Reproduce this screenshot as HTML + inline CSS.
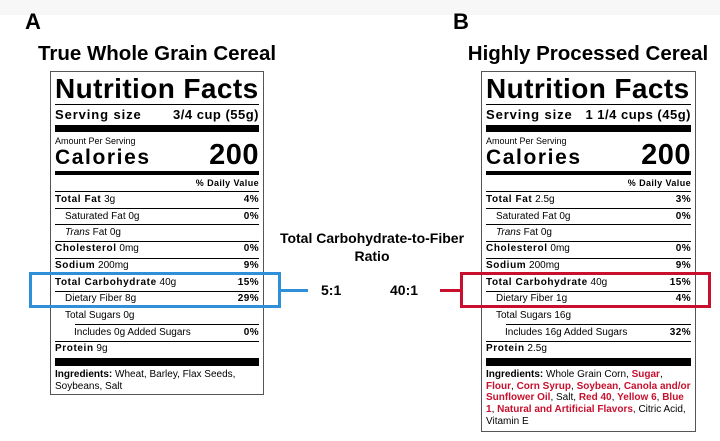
<!DOCTYPE html>
<html><head><meta charset="utf-8">
<style>
body{margin:0;width:720px;height:441px;background:#fff;position:relative;overflow:hidden;font-family:"Liberation Sans",Arial,sans-serif;color:#000}
.abs{position:absolute}
.lbl{position:absolute;border:1px solid #555;box-sizing:border-box;background:#fff}
.r{position:absolute;left:4px;right:4px;height:14px;line-height:14px;font-size:10px;white-space:nowrap}
.r b{letter-spacing:0.6px}
.r .v{position:absolute;right:0;top:0;font-weight:bold;letter-spacing:0.4px}
.hr{position:absolute;right:4px;background:#000}
.title{position:absolute;font-size:20.5px;font-weight:bold;width:320px;text-align:center}
.red{color:#c8102e;font-weight:bold}
</style></head><body>
<div class="abs" style="left:0;top:0;width:720px;height:15px;background:#f7f7f7"></div>
<div class="abs" style="left:25px;top:9px;font-size:22px;font-weight:bold">A</div>
<div class="abs" style="left:453px;top:9px;font-size:22px;font-weight:bold">B</div>
<div class="title" style="left:-3px;top:42px">True Whole Grain Cereal</div>
<div class="title" style="left:428px;top:42px">Highly Processed Cereal</div>
<div id="labA" class="lbl" style="left:50px;top:71px;width:214px;height:324px"></div>
<div id="labB" class="lbl" style="left:481px;top:71px;width:215px;height:361px"></div>
<div class="abs" style="left:257px;top:229px;width:230px;text-align:center;font-size:14px;font-weight:bold;line-height:18px">Total Carbohydrate-to-Fiber<br>Ratio</div>
<div class="abs" style="left:29px;top:272px;width:252px;height:36px;border:3px solid #2f8fd8;box-sizing:border-box"></div>
<div class="abs" style="left:281px;top:289px;width:27px;height:3px;background:#2f8fd8"></div>
<div class="abs" style="left:321px;top:282px;font-size:14px;font-weight:bold">5:1</div>
<div class="abs" style="left:390px;top:282px;font-size:14px;font-weight:bold">40:1</div>
<div class="abs" style="left:440px;top:289px;width:22px;height:3px;background:#c8102e"></div>
<div class="abs" style="left:460px;top:272px;width:251px;height:36px;border:3px solid #c8102e;box-sizing:border-box"></div>
<script>
function el(parent, css, html, name){
  const d=document.createElement('div');
  
  
  d.style.cssText=css; d.innerHTML=html; parent.appendChild(d); return d;
}
function hr(p,y,h,x0,name){
  const d=el(p,'top:'+y+'px;height:'+h+'px;left:'+(x0||4)+'px','',name);
  d.className='hr';
}
function row(p,c,left,right,ind,name){
  const d=el(p,'top:'+(c-7)+'px;padding-left:'+(ind||0)+'px','<span>'+left+'</span>'+(right?'<span class="v">'+right+'</span>':''),name);
  d.className='r';
}
function build(p,d){
  el(p,'position:absolute;left:4px;top:2px;font-size:28px;font-weight:bold;line-height:30px;letter-spacing:0.4px','Nutrition Facts','heading');
  hr(p,32,1,4,'rule-1');
  el(p,'position:absolute;left:4px;right:4px;top:35px;font-size:13px;font-weight:bold;line-height:16px;letter-spacing:0.9px','Serving size<span style="position:absolute;right:0;letter-spacing:0.5px">'+d.serv+'</span>','serving-size');
  hr(p,53,7,4,'thick-bar-1');
  el(p,'position:absolute;left:4px;top:64px;font-size:9px;line-height:11px','Amount Per Serving','amount-per-serving');
  el(p,'position:absolute;left:4px;right:4px;top:74px;font-size:21px;font-weight:bold;line-height:24px;letter-spacing:1.6px','Calories<span style="position:absolute;right:0;top:-6px;font-size:29px;line-height:30px;letter-spacing:0.5px">200</span>','calories');
  hr(p,99,4,4,'thick-bar-2');
  row(p,111,'','<span style="font-size:9px">% Daily Value</span>',0,'daily-value-header');
  hr(p,119,1,4,'rule');
  row(p,128,'<b>Total Fat</b> '+d.fat,d.fatp,0,'total-fat');
  hr(p,136,1,4,'rule');
  row(p,145,'Saturated Fat 0g','0%',10,'saturated-fat');
  hr(p,152,1,4,'rule');
  row(p,161,'<i>Trans</i> Fat 0g','',10,'trans-fat');
  hr(p,169,1,4,'rule');
  row(p,177,'<b>Cholesterol</b> 0mg','0%',0,'cholesterol');
  hr(p,186,1,4,'rule');
  row(p,194,'<b>Sodium</b> 200mg','9%',0,'sodium');
  hr(p,202,1,4,'rule');
  row(p,211,'<b>Total Carbohydrate</b> 40g','15%',0,'total-carbohydrate');
  hr(p,219,1,4,'rule');
  row(p,227,'Dietary Fiber '+d.fib,d.fibp,10,'dietary-fiber');
  row(p,244,'Total Sugars '+d.sug,'',10,'total-sugars');
  hr(p,252,1,24,'rule');
  row(p,261,'Includes '+d.add+' Added Sugars',d.addp,19,'added-sugars');
  hr(p,269,1,4,'rule');
  row(p,277,'<b>Protein</b> '+d.prot,'',0,'protein');
  hr(p,286,8,4,'thick-bar-3');
  el(p,'position:absolute;left:4px;width:206px;top:297px;font-size:10px;line-height:11.7px',d.ing,'ingredients');
}
build(document.getElementById('labA'),{serv:'3/4 cup (55g)',fat:'3g',fatp:'4%',fib:'8g',fibp:'29%',sug:'0g',add:'0g',addp:'0%',prot:'9g',
 ing:'<b>Ingredients:</b> Wheat, Barley, Flax Seeds, Soybeans, Salt'});
build(document.getElementById('labB'),{serv:'1 1/4 cups (45g)',fat:'2.5g',fatp:'3%',fib:'1g',fibp:'4%',sug:'16g',add:'16g',addp:'32%',prot:'2.5g',
 ing:'<b>Ingredients:</b> Whole Grain Corn, <span class="red">Sugar</span>, <span class="red">Flour</span>, <span class="red">Corn Syrup</span>, <span class="red">Soybean</span>, <span class="red">Canola and/or Sunflower Oil</span>, Salt, <span class="red">Red 40</span>, <span class="red">Yellow 6</span>, <span class="red">Blue 1</span>, <span class="red">Natural and Artificial Flavors</span>, Citric Acid, Vitamin E'});
</script>
</body></html>
